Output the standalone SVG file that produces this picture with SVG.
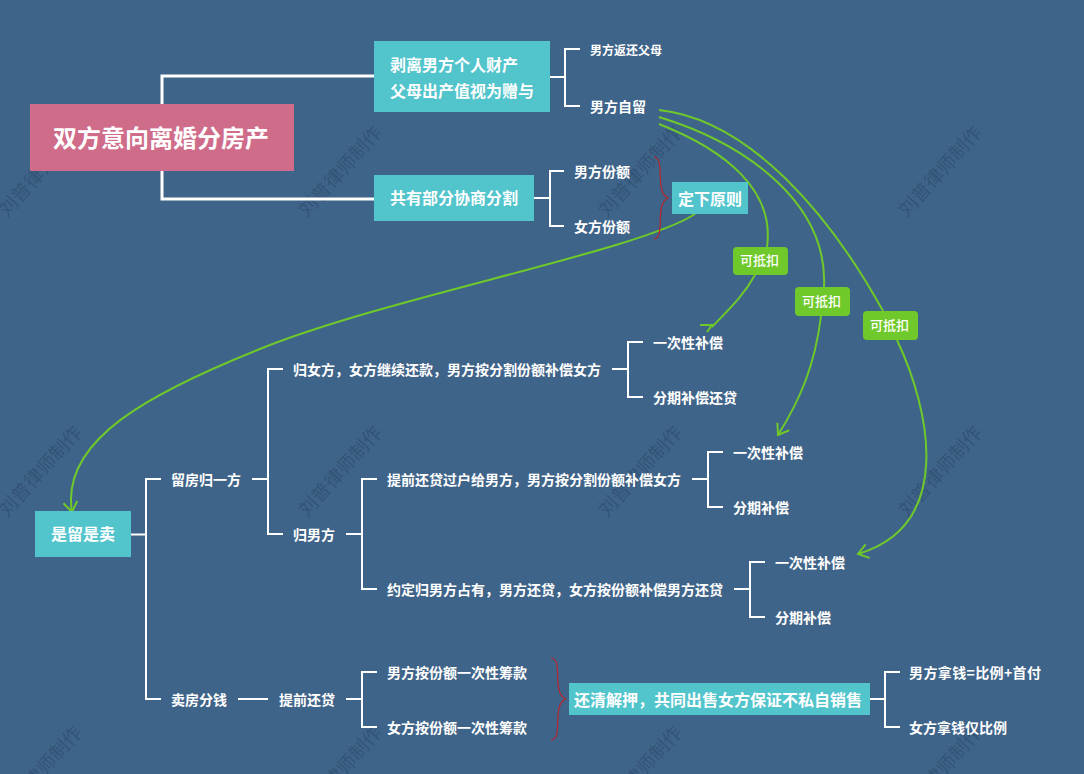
<svg xmlns="http://www.w3.org/2000/svg" width="1084" height="774" viewBox="0 0 1084 774">
<style>
text{font-family:"Noto Sans CJK SC","Noto Sans",sans-serif;fill:#fff;font-weight:700}
.t24{font-size:24px}.t16{font-size:16px}.t14{font-size:14px}.t12{font-size:12px}
.t13{font-size:13px;font-weight:500}
.wm{font-size:19px;font-weight:400;fill:#2f4f72;fill-opacity:.75}
.teal{fill:#52c4cc}.pink{fill:#cf6c8a}.green{fill:#6fc92a}
.link{fill:none;stroke:#fff;stroke-width:2}
.link3{fill:none;stroke:#fff;stroke-width:3}
.rel{fill:none;stroke:#6fc92a;stroke-width:2}
.brace{fill:none;stroke:#b5262e;stroke-width:1.2}
</style>
<defs>
<marker id="arrow" markerUnits="userSpaceOnUse" markerWidth="20" markerHeight="20" refX="13" refY="10" orient="auto">
<path d="M3,3 L13,10 L3,17" fill="none" stroke="#6fc92a" stroke-width="2"/>
</marker>
</defs>
<rect width="1084" height="774" fill="#3f6489"/>
<g id="watermarks">
<text class="wm" transform="translate(7,218) rotate(-48)">刘普律师制作</text>
<text class="wm" transform="translate(307,218) rotate(-48)">刘普律师制作</text>
<text class="wm" transform="translate(607,218) rotate(-48)">刘普律师制作</text>
<text class="wm" transform="translate(907,218) rotate(-48)">刘普律师制作</text>
<text class="wm" transform="translate(7,518) rotate(-48)">刘普律师制作</text>
<text class="wm" transform="translate(307,518) rotate(-48)">刘普律师制作</text>
<text class="wm" transform="translate(607,518) rotate(-48)">刘普律师制作</text>
<text class="wm" transform="translate(907,518) rotate(-48)">刘普律师制作</text>
<text class="wm" transform="translate(7,818) rotate(-48)">刘普律师制作</text>
<text class="wm" transform="translate(307,818) rotate(-48)">刘普律师制作</text>
<text class="wm" transform="translate(607,818) rotate(-48)">刘普律师制作</text>
<text class="wm" transform="translate(907,818) rotate(-48)">刘普律师制作</text>
</g>
<g id="connectors">
<path class="link3" d="M162,104V76H374M162,170V199H374"/>
<path class="link" d="M550,77H565M580,49H565V106H580"/>
<path class="link" d="M534,198H550M564,171H550V226H564"/>
<path class="link" d="M131,534.500H146M161,479H146V699H161"/>
<path class="link" d="M252,479H268M283,369H268V534H283"/>
<path class="link" d="M612,369H628M643,342H628V397H643"/>
<path class="link" d="M346,534H362M377,479H362V589H377"/>
<path class="link" d="M692,479H708M723,452H708V507H723"/>
<path class="link" d="M734,589H750M765,562H750V617H765"/>
<path class="link" d="M238,699H268M346,699H362M377,672H362V727H377"/>
<path class="link" d="M870,699H885M900,672H885V727H900"/>
<path class="rel" d="M659,124C725,150 775,190 767,247M755,275C742,298 728,310 712,327M700,325H712L707,332"/>
<path class="rel" d="M659,117C750,145 828,205 824,287"/>
<path class="rel" marker-end="url(#arrow)" d="M821,316C815,365 800,400 778,435"/>
<path class="rel" d="M659,110C750,120 830,215 883,311"/>
<path class="rel" marker-end="url(#arrow)" d="M897,340C930,410 955,525 858,554"/>
<path class="rel" marker-end="url(#arrow)" d="M695,214C640,250 400,295 270,345C150,392 60,440 72,512"/>
<path class="brace" d="M654,157C666,158 654,192 668,198C654,204 666,238 654,239"/>
<path class="brace" d="M551,658C564,659 551,692 565.500,699C551,706 564,739 551,740"/>
</g>
<g id="root"><rect class="pink" x="30" y="104" width="264" height="67"/><text class="t24" x="53" y="147">双方意向离婚分房产</text></g>
<g id="n-strip"><rect class="teal" x="374" y="41" width="176" height="71"/><text class="t16" x="390" y="71">剥离男方个人财产</text><text class="t16" x="390" y="97">父母出产值视为赠与</text></g>
<g id="n-shared"><rect class="teal" x="374" y="175" width="160" height="46"/><text class="t16" x="390" y="204">共有部分协商分割</text></g>
<g id="n-principle"><rect class="teal" x="672" y="182" width="76" height="32"/><text class="t16" x="678" y="205">定下原则</text></g>
<g id="n-keep-sell"><rect class="teal" x="35" y="511" width="96" height="46"/><text class="t16" x="51" y="540">是留是卖</text></g>
<g id="n-clear"><rect class="teal" x="569" y="683" width="301" height="32"/><text class="t16" x="574" y="706">还清解押，共同出售女方保证不私自销售</text></g>
<g id="l1"><rect class="green" x="733" y="247" width="55" height="28" rx="4"/><text class="t13" x="740" y="265">可抵扣</text></g>
<g id="l2"><rect class="green" x="795" y="287" width="55" height="29" rx="4"/><text class="t13" x="802" y="306">可抵扣</text></g>
<g id="l3"><rect class="green" x="863" y="311" width="55" height="29" rx="4"/><text class="t13" x="870" y="330">可抵扣</text></g>
<g id="a1"><text class="t12" x="590" y="55">男方返还父母</text></g>
<g id="a2"><text class="t14" x="590" y="112">男方自留</text></g>
<g id="a3"><text class="t14" x="574" y="177">男方份额</text></g>
<g id="a4"><text class="t14" x="574" y="232">女方份额</text></g>
<g id="b1"><text class="t14" x="171" y="485">留房归一方</text></g>
<g id="b2"><text class="t14" x="171" y="705">卖房分钱</text></g>
<g id="b3"><text class="t14" x="293" y="375">归女方，女方继续还款，男方按分割份额补偿女方</text></g>
<g id="b4"><text class="t14" x="293" y="540">归男方</text></g>
<g id="b5"><text class="t14" x="279" y="705">提前还贷</text></g>
<g id="c1"><text class="t14" x="653" y="348">一次性补偿</text></g>
<g id="c2"><text class="t14" x="653" y="403">分期补偿还贷</text></g>
<g id="c3"><text class="t14" x="387" y="485">提前还贷过户给男方，男方按分割份额补偿女方</text></g>
<g id="c4"><text class="t14" x="387" y="595">约定归男方占有，男方还贷，女方按份额补偿男方还贷</text></g>
<g id="c5"><text class="t14" x="733" y="458">一次性补偿</text></g>
<g id="c6"><text class="t14" x="733" y="513">分期补偿</text></g>
<g id="c7"><text class="t14" x="775" y="568">一次性补偿</text></g>
<g id="c8"><text class="t14" x="775" y="623">分期补偿</text></g>
<g id="d1"><text class="t14" x="387" y="678">男方按份额一次性筹款</text></g>
<g id="d2"><text class="t14" x="387" y="733">女方按份额一次性筹款</text></g>
<g id="e1"><text class="t14" x="909" y="678" textLength="132">男方拿钱=比例+首付</text></g>
<g id="e2"><text class="t14" x="909" y="733">女方拿钱仅比例</text></g>
</svg>
